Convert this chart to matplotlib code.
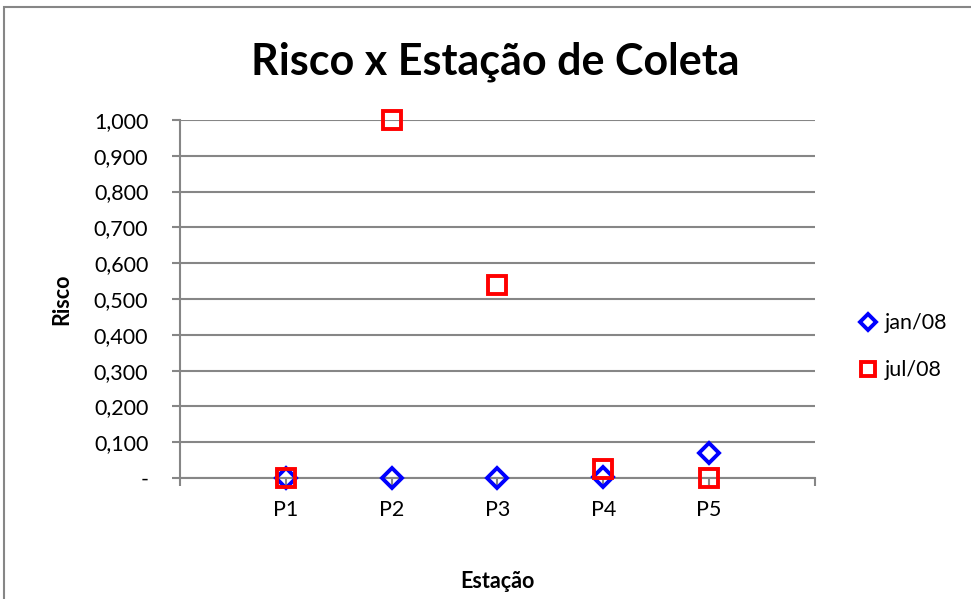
import numpy as np
import matplotlib.pyplot as plt
from matplotlib.patches import Rectangle
from matplotlib.ticker import FuncFormatter

plt.rcParams['font.family'] = ['Lato', 'DejaVu Sans']

estacoes = ['P1', 'P2', 'P3', 'P4', 'P5']
jan08 = [0.000, 0.000, 0.000, 0.002, 0.070]
jul08 = [0.000, 1.000, 0.540, 0.025, 0.000]

fig = plt.figure(figsize=(9.71, 5.99), dpi=100)
ax = fig.add_axes([0.1854, 0.202, 0.6539, 0.5977])

x = np.arange(1, len(estacoes) + 1)
ax.plot(x, jan08, linestyle='none', marker='D', markersize=10.5, markerfacecolor='none',
        markeredgecolor='#0000ff', markeredgewidth=2.8, label='jan/08', zorder=3, clip_on=False)
ax.plot(x, jul08, linestyle='none', marker='s', markersize=13, markerfacecolor='none',
        markeredgecolor='#ff0000', markeredgewidth=2.8, label='jul/08', zorder=4, clip_on=False)

ax.set_xlim(0, 6)
ax.set_ylim(0, 1.0)
ax.set_xticks(np.arange(0, 7))
ax.set_xticklabels([''] + estacoes + [''])
ax.set_yticks(np.arange(0, 1.01, 0.1))

def fmt(v, pos):
    if abs(v) < 1e-9:
        return '-'
    return f'{v:.3f}'.replace('.', ',')

ax.yaxis.set_major_formatter(FuncFormatter(fmt))
ax.grid(axis='y', color='#868686', linewidth=1.5)
ax.set_axisbelow(True)

for s in ['top', 'right']:
    ax.spines[s].set_visible(False)
for s in ['left', 'bottom']:
    ax.spines[s].set_color('#868686')
    ax.spines[s].set_linewidth(1.5)
ax.tick_params(axis='both', colors='#868686', width=1.5, length=5.8, labelcolor='black', labelsize=15.5)
ax.tick_params(axis='x', pad=10)
ax.tick_params(axis='y', pad=17)

ax.set_ylabel('Risco', fontsize=15.5, fontweight='bold')
ax.yaxis.set_label_coords(-0.17, 0.5)
ax.set_xlabel('Estação', fontsize=15.5, fontweight='bold')
ax.xaxis.set_label_coords(0.5, -0.26)
fig.text(0.51, 0.897, 'Risco x Estação de Coleta', fontsize=31, fontweight='bold',
         ha='center', va='center')

leg = ax.legend(loc='center left', bbox_to_anchor=(1.068, 0.367), frameon=False, fontsize=15.5,
                handletextpad=0.35, handlelength=0.9, labelspacing=1.25, borderaxespad=0,
                borderpad=0, markerscale=0.8)

fig.patches.append(Rectangle((4 / 971, -0.1), 1.2, 1 - 7 / 599 + 0.1, transform=fig.transFigure,
                             fill=False, edgecolor='#868686', linewidth=1.5))

fig.savefig('out.png', dpi=100)
